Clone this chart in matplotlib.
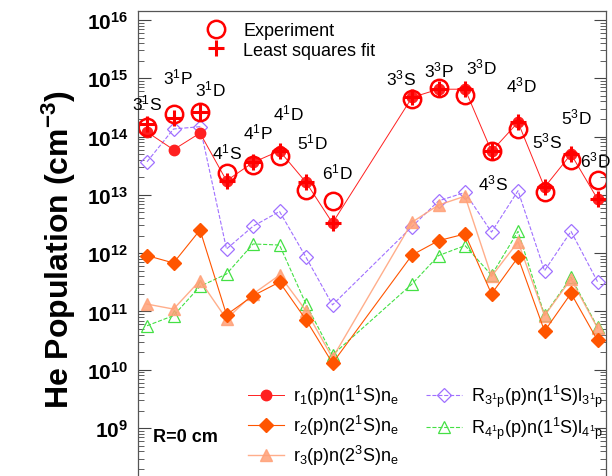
import numpy as np
import matplotlib
matplotlib.use("Agg")
import matplotlib.pyplot as plt
from matplotlib.lines import Line2D

plt.rcParams['font.family'] = ['Liberation Sans', 'DejaVu Sans']
plt.rcParams['mathtext.fontset'] = 'custom'
plt.rcParams['mathtext.rm'] = 'Liberation Sans'
plt.rcParams['mathtext.it'] = 'Liberation Sans:italic'
plt.rcParams['mathtext.bf'] = 'Liberation Sans:bold'

# level index (gap of two slots between the singlet and triplet groups)
x_pos = [0, 1, 2, 3, 4, 5, 6, 7, 10, 11, 12, 13, 14, 15, 16, 17]
levels = [r'3$^1$S', r'3$^1$P', r'3$^1$D', r'4$^1$S', r'4$^1$P', r'4$^1$D', r'5$^1$D', r'6$^1$D',
          r'3$^3$S', r'3$^3$P', r'3$^3$D', r'4$^3$S', r'4$^3$D', r'5$^3$S', r'5$^3$D', r'6$^3$D']

experiment = [1.46e14, 2.44e14, 2.67e14, 2.38e13, 3.3e13, 4.6e13, 1.23e13, 7.9e12,
              4.5e14, 6.7e14, 5.2e14, 5.6e13, 1.35e14, 1.1e13, 4.0e13, 1.8e13]
lsq_fit = [1.64e14, 2.1e14, 2.6e14, 1.75e13, 3.6e13, 5.7e13, 1.64e13, 3.3e12,
           4.7e14, 6.5e14, 6.5e14, 5.6e13, 1.76e14, 1.35e13, 5.0e13, 8.5e12]
r1 = [1.2e14, 5.96e13, 1.15e14, 1.75e13, 3.6e13, 5.7e13, 1.64e13, 3.3e12,
      4.7e14, 6.5e14, 6.5e14, 5.6e13, 1.76e14, 1.35e13, 5.0e13, 8.5e12]
r2 = [9.1e11, 6.8e11, 2.5e12, 8.8e10, 1.86e11, 3.2e11, 7.2e10, 1.3e10,
      9.3e11, 1.64e12, 2.14e12, 2.0e11, 8.5e11, 4.6e10, 2.05e11, 3.2e10]
r3 = [1.34e11, 1.1e11, 3.4e11, 7.4e10, 2.0e11, 4.2e11, 1.03e11, 1.6e10,
      3.4e12, 6.7e12, 9.5e12, 4.0e11, 1.57e12, 8.5e10, 3.6e11, 5.2e10]
R3p = [3.7e13, 1.35e14, 1.48e14, 1.18e12, 2.9e12, 5.2e12, 8.5e11, 1.3e11,
       2.85e12, 7.9e12, 1.1e13, 2.3e12, 1.18e13, 5.0e11, 2.37e12, 3.25e11]
R4p = [5.7e10, 8.5e10, 2.7e11, 4.4e11, 1.44e12, 1.38e12, 1.34e11, 1.8e10,
       2.96e11, 9.1e11, 1.35e12, 4.2e11, 2.37e12, 8.7e10, 3.86e11, 5.4e10]

# level label anchor points (x index, log10 value)
label_x = [0.0, 1.17, 2.39, 3.03, 4.2, 5.34, 6.25, 7.2,
           9.58, 11.02, 12.61, 13.07, 14.13, 15.08, 16.21, 16.92]
label_logy = [14.59, 15.04, 14.82, 13.74, 14.08, 14.42, 13.91, 13.41,
              15.02, 15.16, 15.21, 13.22, 14.9, 13.93, 14.34, 13.6]

fig = plt.figure(figsize=(6.12, 4.77), dpi=100)
ax = fig.add_axes([0.2255, -0.0218, 0.7647, 0.9966])

ax.plot(x_pos, R4p, ls='--', lw=0.8, color='#44e044', marker='^', ms=9,
        mfc='none', mec='#44e044', mew=0.9)
ax.plot(x_pos, R3p, ls='--', lw=0.8, color='#a070ff', marker='D', ms=7,
        mfc='none', mec='#a070ff', mew=0.9)
ax.plot(x_pos, r3, ls='-', lw=1.0, color='#ffa077', marker='^', ms=8.5, alpha=0.85)
ax.plot(x_pos, r2, ls='-', lw=0.8, color='#ff5500', marker='D', ms=7.5)
ax.plot(x_pos, r1, ls='-', lw=0.7, color='#ff2020', marker='o', ms=7.5)
ax.plot(x_pos, lsq_fit, ls='none', color='red', marker='+', ms=11, mew=2.2)
ax.plot(x_pos, experiment, ls='none', marker='o', ms=12.5, mfc='none',
        mec='red', mew=1.8)

for lab, lx, ly in zip(levels, label_x, label_logy):
    ax.text(lx, 10 ** ly, lab, fontsize=12.5, ha='center', va='center')

ax.set_yscale('log')
ax.set_xlim(-0.34, 17.32)
ax.set_ylim(1e8, 10 ** 16.154)
ax.set_xticks([])
ax.set_yticks(10.0 ** np.arange(8, 17))
ax.set_yticklabels([''] + [r'$\mathbf{10^{%d}}$' % k for k in range(9, 17)], fontsize=15)
ax.tick_params(axis='y', which='both', direction='in', left=True, right=True,
               color='#444444', pad=7)
ax.tick_params(axis='y', which='major', length=9, width=0.8)
ax.tick_params(axis='y', which='minor', length=4.5, width=0.6)
for s in ax.spines.values():
    s.set_color('#555555')
    s.set_linewidth(0.9)

ax.set_ylabel(r'He Population (cm$^{\mathbf{-3}}$)', fontsize=23, fontweight='bold',
              labelpad=6)

h_exp = Line2D([], [], ls='none', marker='o', ms=12.5, mfc='none', mec='red', mew=1.8)
h_fit = Line2D([], [], ls='none', marker='+', ms=11, mew=2.2, color='red')
leg1 = ax.legend([h_exp, h_fit], ['Experiment', 'Least squares fit'], loc='upper left',
                 bbox_to_anchor=(0.148, 0.977), frameon=False, fontsize=13,
                 handlelength=1.0, handletextpad=1.0, labelspacing=0.15,
                 borderaxespad=0, borderpad=0)
ax.add_artist(leg1)

h1 = Line2D([], [], ls='-', lw=0.7, color='#ff2020', marker='o', ms=7.5)
h2 = Line2D([], [], ls='-', lw=0.8, color='#ff5500', marker='D', ms=7.5)
h3 = Line2D([], [], ls='-', lw=1.0, color='#ffa077', marker='^', ms=8.5, alpha=0.85)
h4 = Line2D([], [], ls='--', lw=0.8, color='#a070ff', marker='D', ms=7, mfc='none', mew=0.9)
h5 = Line2D([], [], ls='--', lw=0.8, color='#44e044', marker='^', ms=9, mfc='none', mew=0.9)
labels2 = [r'r$_1$(p)n(1$^1$S)n$_{\rm e}$', r'r$_2$(p)n(2$^1$S)n$_{\rm e}$',
           r'r$_3$(p)n(2$^3$S)n$_{\rm e}$',
           r'R$_{\rm 3^1p}$(p)n(1$^1$S)l$_{\rm 3^1p}$', r'R$_{\rm 4^1p}$(p)n(1$^1$S)l$_{\rm 4^1p}$']
ax.legend([h1, h2, h3, h4, h5], labels2, loc='upper left', bbox_to_anchor=(0.235, 0.218),
          ncol=2, frameon=False, fontsize=13, handlelength=2.0, handletextpad=0.5,
          labelspacing=0.33, columnspacing=1.5, borderaxespad=0, borderpad=0)

ax.text(0.032, 0.104, 'R=0 cm', transform=ax.transAxes, fontsize=13, fontweight='bold',
        ha='left', va='center')

fig.savefig('out.png', dpi=100)
